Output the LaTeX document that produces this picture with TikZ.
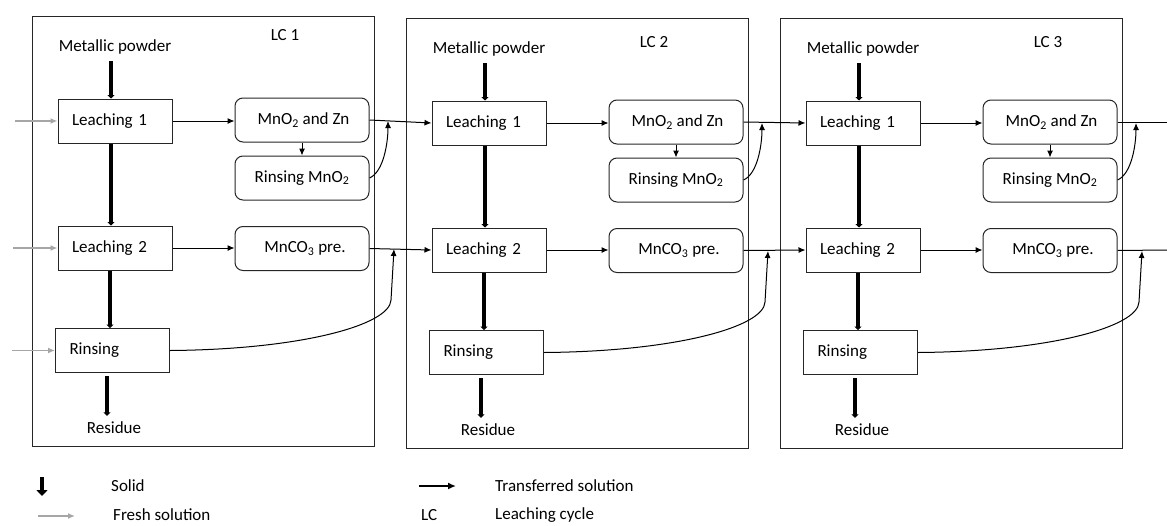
\documentclass[tikz,border=0pt]{standalone}
\usepackage{fontspec}
\setmainfont{Carlito}
\usetikzlibrary{arrows.meta,calc}
\begin{document}
\begin{tikzpicture}[x=1pt,y=-1pt,
  font=\fontsize{17}{20}\selectfont,
  sqbox/.style={draw=black!85,line width=1pt,align=left,text width=86pt,inner xsep=14pt,inner ysep=0pt,minimum height=44pt},
  rbox/.style={draw=black!85,line width=1pt,rounded corners=8pt,minimum width=134pt,minimum height=44pt,inner sep=0pt,align=center},
  frm/.style={draw=black!85,line width=1.2pt,inner sep=0pt,minimum width=342pt,minimum height=430pt,anchor=north west},
  lbl/.style={inner sep=0pt},
  solidarr/.style={line width=3.5pt,-{Triangle[length=3.5pt,width=7pt]}},
  solidleg/.style={line width=4.5pt,-{Triangle[length=6pt,width=11pt]}},
  trans/.style={line width=1pt,-{Latex[length=7pt,width=6pt]}},
  transleg/.style={line width=1.8pt,-{Latex[length=8pt,width=7pt]}},
  fresh/.style={draw=black!35,line width=1.4pt,-{Latex[length=7pt,width=6pt]}}
]
\useasboundingbox (0,0) rectangle (1167,525);

\foreach \i/\dx/\dy/\lx/\ly in {1/0/0/285/35, 2/374/2/280/40, 3/748/2/300/40}{
\begin{scope}[shift={(\dx,\dy)}]
  \node[frm] (F-\i) at (32,16) {};
  \node[lbl] (MP-\i) at (115,47) {Metallic powder};
  \node[lbl] (LC-\i) at (\lx,\ly) {LC \i};
  \node[sqbox] (L1-\i) at (115,121) {Leaching 1};
  \node[sqbox] (L2-\i) at (115,248) {Leaching 2};
  \node[sqbox] (Rs-\i) at (112.5,350.5) {Rinsing};
  \node[rbox] (M1-\i) at (302,120) {\hspace*{3pt}MnO\textsubscript{2} and Zn};
  \node[rbox] (R1-\i) at (302,178) {Rinsing MnO\textsubscript{2}};
  \node[rbox] (C-\i) at (302,248.5) {\hspace*{6pt}MnCO\textsubscript{3} pre.};
  \node[lbl] (Res-\i) at (114,428) {Residue};
  \coordinate (J1-\i) at (388,121);
  \coordinate (K-\i) at (391,300);
  \coordinate (J2-\i) at (394,249);
  \coordinate (RA-\i) at ($(Res-\i.north)+(0,-6)$);
  % solids
  \draw[solidarr] ([xshift=-4pt,yshift=-7pt]MP-\i.south) -- ([xshift=-4pt]L1-\i.north);
  \draw[solidarr] ([xshift=-4pt]L1-\i.south) -- ([xshift=-4pt]L2-\i.north);
  \draw[solidarr] ([xshift=-5pt]L2-\i.south) -- ([xshift=-5pt]L2-\i.south |- Rs-\i.north);
  \draw[solidarr] ([xshift=-5.5pt,yshift=-3pt]Rs-\i.south) -- ([xshift=-5.5pt]Rs-\i.south |- RA-\i);
  % solutions
  \draw[trans] (L1-\i.east) -- (L1-\i.east -| M1-\i.west);
  \draw[trans] (L2-\i.east) -- (L2-\i.east -| C-\i.west);
  \draw[trans] (M1-\i.south) -- (R1-\i.north);
  \draw[trans] (R1-\i.east) .. controls +(14,-6) and +(0,22) .. (J1-\i);
  \draw[trans] (Rs-\i.east) .. controls +(131,-1) and +(-1,25) .. (K-\i) -- (J2-\i);
\end{scope}
}
% transfers between cycles
\draw[trans] (M1-1.east) -- (L1-2.west);
\draw[trans] (C-1.east) -- (L2-2.west);
\draw[trans] (M1-2.east) -- (L1-3.west);
\draw[trans] (C-2.east) -- (L2-3.west);
\coordinate (E1) at (1167,122);
\coordinate (E2) at (1167,250);
\draw[line width=1pt] (M1-3.east) -- (E1);
\draw[line width=1pt] (C-3.east) -- (E2);
% fresh solution
\coordinate (g1) at (15,121);
\coordinate (g2) at (13,248);
\coordinate (g3) at (12,350.5);
\draw[fresh] (g1) -- (L1-1.west);
\draw[fresh] (g2) -- (L2-1.west);
\draw[fresh] (g3) -- (Rs-1.west);
% legend
\coordinate (ls1) at (42,477);
\coordinate (ls2) at (42,496);
\coordinate (lf1) at (38,516);
\coordinate (lf2) at (75,516);
\coordinate (lt1) at (419,486);
\coordinate (lt2) at (456,486);
\draw[solidleg] (ls1) -- (ls2);
\draw[fresh] (lf1) -- (lf2);
\draw[transleg] (lt1) -- (lt2);
\node[lbl,anchor=west] (tS) at (111,486) {Solid};
\node[lbl,anchor=west] (tF) at (113,515) {Fresh solution};
\node[lbl,anchor=west] (tT) at (495,486) {Transferred solution};
\node[lbl,anchor=west] (tL) at (421,515) {LC};
\node[lbl,anchor=west] (tC) at (495,515) {Leaching cycle};
\end{tikzpicture}
\end{document}
